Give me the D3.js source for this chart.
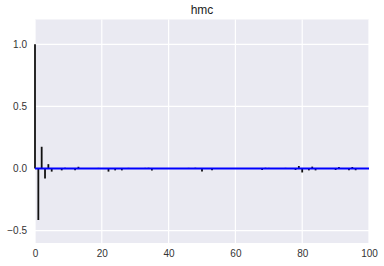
<!DOCTYPE html>
<html>
<head>
<meta charset="utf-8">
<script src="https://cdn.jsdelivr.net/npm/d3@7"></script>
<style>
  html, body { margin: 0; padding: 0; background: #fff; }
  svg { display: block; font-family: "Liberation Sans", Arial, sans-serif; }
  .tick text { fill: #333; font-size: 10px; }
</style>
</head>
<body>
<svg id="chart"></svg>
<script>
// Autocorrelation of the "hmc" chain, lags 0..99
const title = "hmc";
const acf = [
  1.0, -0.415, 0.175, -0.08, 0.035, -0.025, 0.004, -0.003, -0.015, 0.006,
  0.002, -0.004, -0.015, 0.014, 0.004, -0.002, 0.001, -0.003, 0.002, 0.005,
  0.003, -0.004, -0.025, 0.003, -0.015, 0.004, -0.015, 0.002, 0.005, -0.002,
  0.001, -0.003, 0.002, 0.005, 0.006, -0.016, 0.003, -0.002, 0.001, -0.003,
  0.002, 0.001, -0.002, 0.003, -0.002, 0.004, 0.005, -0.003, 0.006, 0.002,
  -0.025, 0.003, 0.002, -0.015, 0.004, -0.003, 0.005, -0.002, 0.003, 0.004,
  -0.003, 0.002, 0.004, -0.002, 0.003, -0.004, 0.002, 0.003, -0.012, 0.006,
  0.005, -0.003, 0.004, 0.002, -0.003, 0.005, 0.003, 0.004, -0.012, 0.02,
  -0.032, 0.004, -0.015, 0.015, -0.015, 0.004, 0.003, -0.002, 0.002, 0.004,
  -0.012, 0.012, 0.003, 0.004, -0.014, 0.012, -0.014, 0.003, 0.002, 0.0
];
const lags = acf.map((_, i) => i);
const xTicks = [0, 20, 40, 60, 80, 100];
const yTicks = [-0.5, 0.0, 0.5, 1.0];

const VW = 384, VH = 266;
const M = { top: 19.5, right: 15, bottom: 23, left: 35 };
const W = VW - M.left - M.right;
const H = VH - M.top - M.bottom;

const svg = d3.select("#chart").attr("width", VW).attr("height", VH);
const g = svg.append("g").attr("transform", `translate(${M.left},${M.top})`);

const x = d3.scaleLinear().domain([0, 100]).range([0, W]);
const y = d3.scaleLinear().domain([-0.6, 1.2]).range([H, 0]);

// background + grid
g.append("rect").attr("width", W).attr("height", H).attr("fill", "#eaeaf2");
g.append("g").selectAll("line").data(xTicks).join("line")
  .attr("x1", d => x(d)).attr("x2", d => x(d)).attr("y1", 0).attr("y2", H)
  .attr("stroke", "#fff").attr("stroke-width", 1.2);
g.append("g").selectAll("line").data(yTicks).join("line")
  .attr("x1", 0).attr("x2", W).attr("y1", d => y(d)).attr("y2", d => y(d))
  .attr("stroke", "#fff").attr("stroke-width", 1.2);

// axes (labels only)
g.append("g").attr("transform", `translate(0,${H})`)
  .call(d3.axisBottom(x).tickValues(xTicks).tickFormat(d3.format("d")).tickSize(0).tickPadding(7))
  .call(ax => ax.select(".domain").remove());
g.append("g")
  .call(d3.axisLeft(y).tickValues(yTicks).tickFormat(d => d3.format(".1f")(d).replace("-", "\u2212")).tickSize(0).tickPadding(8))
  .call(ax => ax.select(".domain").remove());

// stems
g.append("g").selectAll("line").data(lags).join("line")
  .attr("x1", d => x(d)).attr("x2", d => x(d))
  .attr("y1", y(0)).attr("y2", d => y(acf[d]))
  .attr("stroke", "#111").attr("stroke-width", 1.8);

// zero line
g.append("line")
  .attr("x1", x(0)).attr("x2", x(100)).attr("y1", y(0)).attr("y2", y(0))
  .attr("stroke", "#0000ff").attr("stroke-width", 2);

svg.append("text")
  .attr("x", M.left + W / 2).attr("y", 14)
  .attr("text-anchor", "middle").attr("font-size", 12).attr("fill", "#222")
  .text(title);
</script>
</body>
</html>
